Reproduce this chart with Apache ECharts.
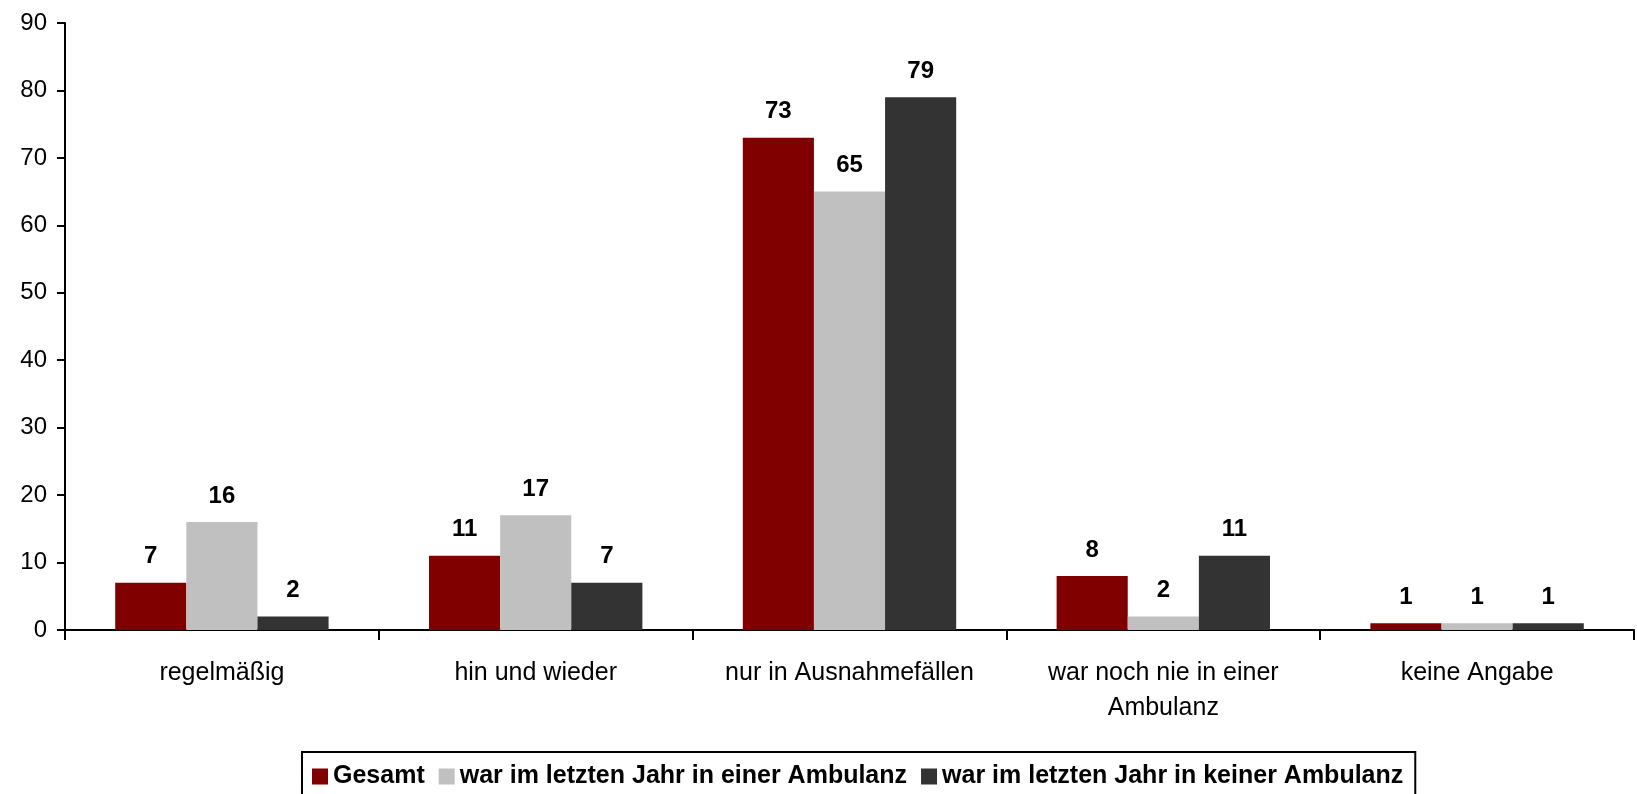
<!DOCTYPE html>
<html>
<head>
<meta charset="utf-8">
<script src="https://cdn.jsdelivr.net/npm/echarts@6/dist/echarts.min.js"></script>
<style>
  html, body { margin: 0; padding: 0; background: #fff; }
  #chart { width: 1637px; height: 794px; }
</style>
</head>
<body>
<div id="chart"></div>
<script>
// Kategorien und Werte (in %)
const categories = ['regelmäßig', 'hin und wieder', 'nur in Ausnahmefällen', 'war noch nie in einer\nAmbulanz', 'keine Angabe'];
const gesamt = [7, 11, 73, 8, 1];
const mitAmbulanz = [16, 17, 65, 2, 1];
const ohneAmbulanz = [2, 7, 79, 11, 1];
const seriesNames = ['Gesamt', 'war im letzten Jahr in einer Ambulanz', 'war im letzten Jahr in keiner Ambulanz'];
const colors = ['#800000', '#C0C0C0', '#333333'];

const chart = echarts.init(document.getElementById('chart'));
const font = 'Liberation Sans, Arial, sans-serif';

function barSeries(name, data, color) {
  return {
    name: name,
    type: 'bar',
    data: data,
    barGap: '0%',
    barCategoryGap: '32%',
    itemStyle: { color: color },
    label: {
      show: true,
      position: 'top',
      distance: 14,
      color: '#000',
      fontWeight: 'bold',
      fontSize: 24,
      fontFamily: font
    }
  };
}

const option = {
  animation: false,
  textStyle: { fontFamily: font },
  grid: { left: 65, right: 3, top: 23, bottom: 164, containLabel: false },
  legend: {
    data: seriesNames,
    left: 302,
    top: 752,
    padding: [12, 12, 30, 10],
    borderColor: '#000',
    borderWidth: 2,
    itemWidth: 16,
    itemHeight: 16,
    itemGap: 14,
    icon: 'rect',
    textStyle: { color: '#000', fontWeight: 'bold', fontSize: 25, fontFamily: font }
  },
  xAxis: {
    type: 'category',
    data: categories,
    axisLine: { lineStyle: { color: '#000', width: 2 } },
    axisTick: { show: true, length: 10, lineStyle: { color: '#000', width: 2 } },
    axisLabel: { color: '#000', fontSize: 25, margin: 26, lineHeight: 35, fontFamily: font, interval: 0 }
  },
  yAxis: {
    type: 'value',
    min: 0,
    max: 90,
    interval: 10,
    splitLine: { show: false },
    axisLine: { show: true, lineStyle: { color: '#000', width: 2 } },
    axisTick: { show: true, length: 8, lineStyle: { color: '#000', width: 2 } },
    axisLabel: { color: '#000', fontSize: 24, margin: 18, fontFamily: font }
  },
  series: [
    barSeries(seriesNames[0], gesamt, colors[0]),
    barSeries(seriesNames[1], mitAmbulanz, colors[1]),
    barSeries(seriesNames[2], ohneAmbulanz, colors[2])
  ]
};

chart.setOption(option);
</script>
</body>
</html>
